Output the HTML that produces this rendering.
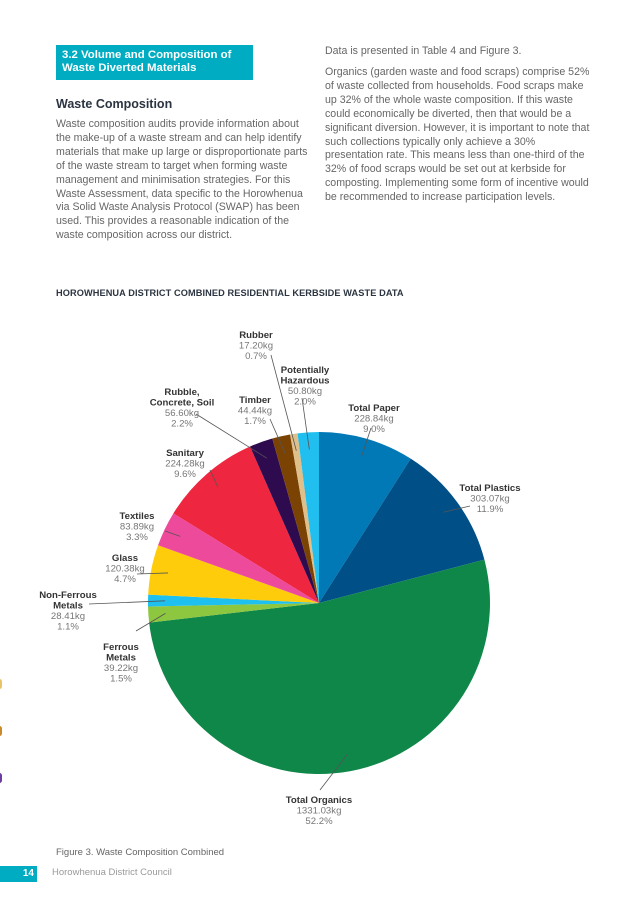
<!DOCTYPE html>
<html><head><meta charset="utf-8">
<style>
body{margin:0;width:637px;height:901px;background:#fff;position:relative;overflow:hidden;font-family:"Liberation Sans",sans-serif;color:#5a5a5a}
.p{position:absolute;font-size:10.6px;line-height:13.9px;color:#666}
.hdr{position:absolute;left:56px;top:45px;width:197px;height:35px;background:#00acc1;color:#fff;font-weight:bold;font-size:11.4px;line-height:12.5px;padding:4px 0 0 6px;box-sizing:border-box}
svg text{font-family:"Liberation Sans",sans-serif;font-size:9.6px}
</style></head><body>
<div class="hdr">3.2 Volume and Composition of Waste Diverted Materials</div>
<div style="position:absolute;left:56px;top:97px;font-weight:bold;font-size:12.5px;color:#2b3440">Waste Composition</div>
<div class="p" style="left:56px;top:118px;width:260px">Waste composition audits provide information about the make-up of a waste stream and can help identify materials that make up large or disproportionate parts of the waste stream to target when forming waste management and minimisation strategies. For this Waste Assessment, data specific to the Horowhenua via Solid Waste Analysis Protocol (SWAP) has been used. This provides a reasonable indication of the waste composition across our district.</div>
<div class="p" style="left:325px;top:45px;width:270px">Data is presented in Table 4 and Figure 3.</div>
<div class="p" style="left:325px;top:66px;width:270px">Organics (garden waste and food scraps) comprise 52% of waste collected from households. Food scraps make up 32% of the whole waste composition. If this waste could economically be diverted, then that would be a significant diversion. However, it is important to note that such collections typically only achieve a 30% presentation rate. This means less than one-third of the 32% of food scraps would be set out at kerbside for composting. Implementing some form of incentive would be recommended to increase participation levels.</div>
<div style="position:absolute;left:56px;top:288px;font-weight:bold;font-size:9.2px;color:#2b3440;letter-spacing:0.1px">HOROWHENUA DISTRICT COMBINED RESIDENTIAL KERBSIDE WASTE DATA</div>
<svg id="chart" width="637" height="901" style="position:absolute;left:0;top:0"></svg>
<div style="position:absolute;left:56px;top:847px;font-size:9.5px;color:#666">Figure 3. Waste Composition Combined</div>
<div style="position:absolute;left:0;top:866px;width:37px;height:16px;background:#00acc1;color:#fff;font-weight:bold;font-size:10px;text-align:right;box-sizing:border-box;padding:2px 3px 0 0">14</div>
<div style="position:absolute;left:52px;top:867px;font-size:9.5px;color:#999">Horowhenua District Council</div>
<div style="position:absolute;left:-3px;top:679px;width:5px;height:10px;border-radius:3px;background:#e9c36a"></div>
<div style="position:absolute;left:-3px;top:726px;width:5px;height:10px;border-radius:3px;background:#c88a2a"></div>
<div style="position:absolute;left:-3px;top:773px;width:5px;height:10px;border-radius:3px;background:#6a3ea0"></div>
<script>
const categories=["Total Paper","Total Plastics","Total Organics","Ferrous Metals","Non-Ferrous Metals","Glass","Textiles","Sanitary","Rubble, Concrete, Soil","Timber","Rubber","Potentially Hazardous"];
const kgLabels=["228.84kg","303.07kg","1331.03kg","39.22kg","28.41kg","120.38kg","83.89kg","224.28kg","56.60kg","44.44kg","17.20kg","50.80kg"];
const percents=[9.0,11.9,52.2,1.5,1.1,4.7,3.3,9.6,2.2,1.7,0.7,2.0];
const colors=["#0079b6","#004f86","#0f8749","#8dc63f","#1ec0ef","#fecc0a","#ee4a9c","#ee263f","#2e0a4e","#7a4303","#e0c08a","#21bff0"];
// label layout (name lines, center x, top y, label anchor point)
const labelLines=[["Total Paper"],["Total Plastics"],["Total Organics"],["Ferrous","Metals"],["Non-Ferrous","Metals"],["Glass"],["Textiles"],["Sanitary"],["Rubble,","Concrete, Soil"],["Timber"],["Rubber"],["Potentially","Hazardous"]];
const labelPos=[[374,404],[490,484],[319,796],[121,643],[68,591],[125,554],[137,512],[185,449],[182,388],[255,396],[256,331],[305,366]];
const anchors=[[371,428],[470,506],[320,790],[136,631],[89,604],[137,574],[165,531],[210,470],[196,414],[270,419],[271,355],[302,398]];
const svg=document.getElementById('chart');
const NS='http://www.w3.org/2000/svg';
const cx=319,cy=603,r=171;
const total=percents.reduce((a,b)=>a+b,0);
function pt(a,rr){return [cx+rr*Math.sin(a),cy-rr*Math.cos(a)];}
let a0=0;
const mids=[];
percents.forEach((v,i)=>{
  const a1=a0+v/total*2*Math.PI;
  const p0=pt(a0,r),p1=pt(a1,r);
  const path=document.createElementNS(NS,'path');
  path.setAttribute('d',`M${cx},${cy}L${p0[0]},${p0[1]}A${r},${r} 0 ${a1-a0>Math.PI?1:0} 1 ${p1[0]},${p1[1]}Z`);
  path.setAttribute('fill',colors[i]);
  
  
  svg.appendChild(path);
  mids.push((a0+a1)/2);
  a0=a1;
});
percents.forEach((v,i)=>{
  const inner=pt(mids[i],r*0.9);
  const ln=document.createElementNS(NS,'line');
  ln.setAttribute('x1',anchors[i][0]);ln.setAttribute('y1',anchors[i][1]);
  ln.setAttribute('x2',inner[0]);ln.setAttribute('y2',inner[1]);
  ln.setAttribute('stroke','#555');ln.setAttribute('stroke-width','0.8');
  
  
  svg.appendChild(ln);
  const t=document.createElementNS(NS,'text');
  t.setAttribute('text-anchor','middle');
  
  
  const [x,y]=labelPos[i];
  const lines=labelLines[i].map(s=>[s,true]).concat([[kgLabels[i],false],[percents[i].toFixed(1)+'%',false]]);
  lines.forEach((l,k)=>{
    const ts=document.createElementNS(NS,'tspan');
    ts.setAttribute('x',x);ts.setAttribute('y',y+7+k*10.5);
    if(l[1]){ts.setAttribute('font-weight','bold');ts.setAttribute('fill','#333');}else ts.setAttribute('fill','#777');
    ts.textContent=l[0];
    t.appendChild(ts);
  });
  svg.appendChild(t);
});
</script>
</body></html>
